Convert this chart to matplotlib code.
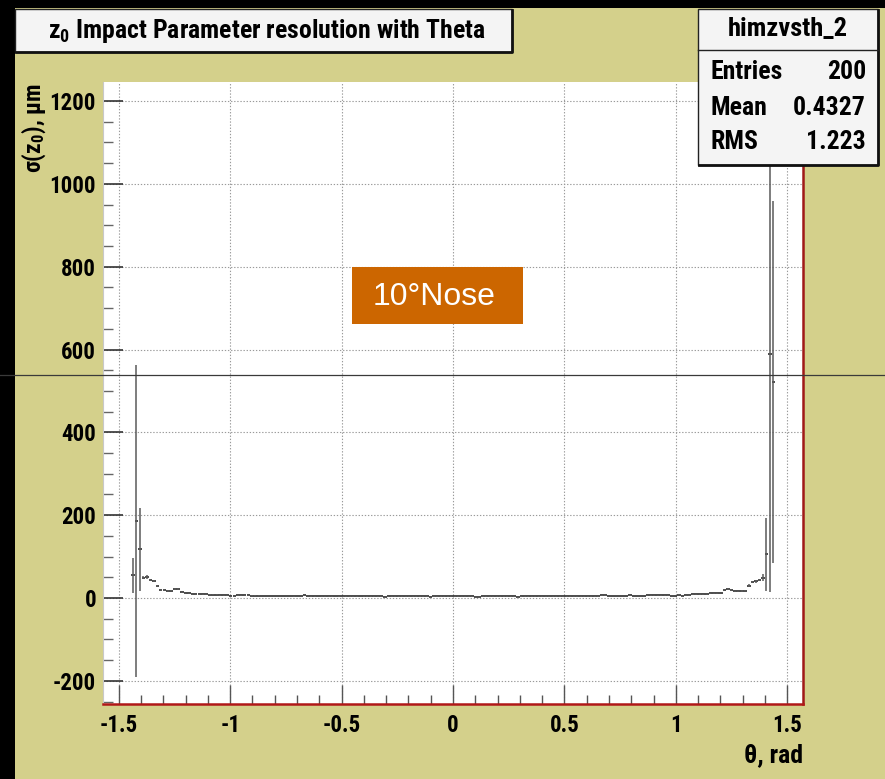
import numpy as np
import matplotlib
matplotlib.use("Agg")
import matplotlib.pyplot as plt
from matplotlib.patches import Rectangle
from matplotlib.lines import Line2D
from matplotlib.ticker import MultipleLocator, FuncFormatter
from matplotlib import font_manager as fm

# ---------------- data ----------------
n_bins = 200
theta_min, theta_max = -np.pi / 2, np.pi / 2
first_bin = 8          # bins 0..7 and 192..199 are empty

sigma_z0 = [
    55, 186, 118, 49, 51, 44, 41, 29, 19, 19,
    17, 18, 21, 21, 14, 11, 11, 9, 9, 9,
    9, 9, 8, 8, 8, 7, 7, 7, 4, 4,                  # bins 8-37
    7, 7, 7, 7, 6, 6, 6,                           # 38-44
    5, 5, 5, 5, 5, 5, 5, 5, 5, 4, 5, 5,            # 45-56
    7,                                             # 57
    5, 4, 4, 5, 4, 4, 4, 4, 5, 4, 4, 4, 4, 4, 4, 5, 4, 4, 4, 4, 4, 4,  # 58-79
    2,                                             # 80
    4, 4, 4, 4, 4, 4, 4, 4, 4, 4, 4, 4,            # 81-92
    2,                                             # 93
    4, 4, 4, 4, 4, 4, 4, 4, 4, 4, 4, 4,            # 94-105
    2, 2,                                          # 106-107
    4, 4, 4, 4, 4, 4, 4, 4, 4, 4,                  # 108-117
    2,                                             # 118
    4, 4, 4, 4, 4, 4, 4, 4, 4, 4, 4, 4, 4, 4, 4, 4, 4, 4, 4, 4, 4, 4, 4,  # 119-141
    7, 7,                                          # 142-143
    5, 5, 5, 5, 5, 5,                              # 144-149
    7,                                             # 150
    5, 5, 5, 5,                                    # 151-154
    7, 7, 7, 7, 7, 7, 7,                           # 155-161
    5, 5,                                          # 162-163
    8, 4, 7, 7,                                    # 164-167
    9, 9, 9, 9, 9,                                 # 168-172
    11, 11, 11, 12,                                # 173-176
    20, 21, 20,                                    # 177-179
    16, 16, 17, 18,                                # 180-183
    30, 38, 40, 43, 49, 106, 590, 522,             # 184-191
]

sigma_err = [
    42, 376, 100, 4, 4, 3, 3, 2, 2, 2,
    2, 2, 2, 2, 1, 1, 1, 1, 1, 1,
    1, 1, 1, 1, 1, 1, 1, 1, 1, 1,
    1, 1, 1, 1, 1, 1, 1,
    1, 1, 1, 1, 1, 1, 1, 1, 1, 1, 1, 1,
    1,
    1, 1, 1, 1, 1, 1, 1, 1, 1, 1, 1, 1, 1, 1, 1, 1, 1, 1, 1, 1, 1, 1,
    1,
    1, 1, 1, 1, 1, 1, 1, 1, 1, 1, 1, 1,
    1,
    1, 1, 1, 1, 1, 1, 1, 1, 1, 1, 1, 1,
    1, 1,
    1, 1, 1, 1, 1, 1, 1, 1, 1, 1,
    1,
    1, 1, 1, 1, 1, 1, 1, 1, 1, 1, 1, 1, 1, 1, 1, 1, 1, 1, 1, 1, 1, 1, 1,
    1, 1,
    1, 1, 1, 1, 1, 1,
    1,
    1, 1, 1, 1,
    1, 1, 1, 1, 1, 1, 1,
    1, 1,
    1, 1, 1, 1,
    1, 1, 1, 1, 1,
    1, 1, 1, 1,
    2, 2, 2,
    2, 2, 2, 2,
    3, 3, 3, 3, 8, 88, 576, 437,
]

title_text = r"$\mathrm{z_0}$ Impact Parameter resolution with Theta"
ylabel_text = r"$\sigma(\mathrm{z_0})$, μm"
xlabel_text = "θ, rad"
stats_name = "himzvsth_2"
stats_rows = [("Entries", "200"), ("Mean", "0.4327"), ("RMS", "1.223")]
note_text = "10°Nose"

# ---------------- fonts ----------------
def pick_family(cands):
    for fam in cands:
        try:
            fm.findfont(fm.FontProperties(family=fam, weight="bold"),
                        fallback_to_default=False)
            return fam
        except Exception:
            continue
    return "DejaVu Sans"

FAM = pick_family(["Roboto Condensed", "Liberation Sans Narrow", "Arial Narrow",
                   "Liberation Sans"])
CONDENSED = FAM != "Liberation Sans"

W, H = 885, 779
BG = "#d4d08b"
plt.rcParams["font.family"] = [FAM, "Liberation Sans", "DejaVu Sans"]
plt.rcParams["font.weight"] = "bold"
plt.rcParams["axes.unicode_minus"] = False
plt.rcParams["mathtext.fontset"] = "custom"
for k in ("rm", "it", "bf", "sf"):
    plt.rcParams["mathtext." + k] = FAM + ":bold"

TICK_FS = 16.5 if CONDENSED else 15
BOX_FS = 18.5 if CONDENSED else 16
TITLE_FS = 18.5 if CONDENSED else 16
YLAB_FS = 17 if CONDENSED else 15

fig = plt.figure(figsize=(W / 100, H / 100), dpi=100)
fig.patch.set_facecolor(BG)

def fx(x):
    return x / W

def fy(y):
    return 1 - y / H

# black strips (top / left) of the screenshot
fig.add_artist(Rectangle((0, fy(8)), 1, 8 / H, transform=fig.transFigure,
                         facecolor="black", edgecolor="none", zorder=0))
fig.add_artist(Rectangle((0, 0), 15 / W, 1, transform=fig.transFigure,
                         facecolor="black", edgecolor="none", zorder=0))

ax_l, ax_r, ax_t, ax_b = 103, 803, 82, 704
ax = fig.add_axes([fx(ax_l), fy(ax_b), (ax_r - ax_l) / W, (ax_b - ax_t) / H])
ax.set_facecolor("white")

edges = np.linspace(theta_min, theta_max, n_bins + 1)
centers = 0.5 * (edges[:-1] + edges[1:])
half_w = 0.5 * (edges[1] - edges[0])
vals = np.array(sigma_z0, dtype=float)
errs = np.array(sigma_err, dtype=float)
xs = centers[first_bin:first_bin + len(vals)]

ax.hlines(vals, xs - half_w, xs + half_w, colors="#1a1a1a", linewidth=1.1, zorder=3)
ax.vlines(xs, vals - errs, vals + errs, colors="#5a5a5a", linewidth=1.1, zorder=3)

ax.xaxis.set_major_locator(MultipleLocator(0.5))
ax.xaxis.set_minor_locator(MultipleLocator(0.1))
ax.yaxis.set_major_locator(MultipleLocator(200))
ax.yaxis.set_minor_locator(MultipleLocator(50))
ax.xaxis.set_major_formatter(FuncFormatter(lambda v, p: f"{v:g}"))
ax.yaxis.set_major_formatter(FuncFormatter(lambda v, p: f"{v:g}"))
ax.set_xlim(theta_min, theta_max)
ax.set_ylim(-256, 1246)

ax.grid(True, which="major", color="#9a9a9a", linestyle=(0, (1.2, 1.6)), linewidth=0.8, zorder=1)
ax.set_axisbelow(True)

ax.tick_params(axis="x", which="major", direction="in", length=13.5, width=1.0,
               color="#555555", pad=7, labelsize=TICK_FS)
ax.tick_params(axis="x", which="minor", direction="in", length=6.5, width=1.0,
               color="#555555")
ax.tick_params(axis="y", which="major", direction="in", length=14.5, width=1.2,
               color="#333333", pad=5, labelsize=TICK_FS)
ax.tick_params(axis="y", which="minor", direction="in", length=7.2, width=1.0,
               color="#666666")
for lab in ax.get_xticklabels() + ax.get_yticklabels():
    lab.set_fontweight("bold")

ax.spines["top"].set_visible(False)
ax.spines["left"].set_color("#c8c8c8")
ax.spines["left"].set_linewidth(0.8)
ax.spines["bottom"].set_color("#b01818")
ax.spines["bottom"].set_linewidth(1.8)
ax.spines["right"].set_color("#a01818")
ax.spines["right"].set_linewidth(1.8)

# axis titles
fig.text(fx(803), fy(755), xlabel_text, ha="right", va="center", fontsize=BOX_FS,
         fontweight="bold")
fig.text(fx(34), fy(83), ylabel_text, ha="center", va="top",
         rotation=90, fontsize=YLAB_FS, fontweight="bold")

# title box
fig.add_artist(Rectangle((fx(15), fy(52)), (512 - 15) / W, (52 - 9) / H,
                         transform=fig.transFigure, facecolor="#f4f4f4",
                         edgecolor="#222222", linewidth=1.0, zorder=4))
fig.add_artist(Line2D([fx(16), fx(512), fx(512)], [fy(52), fy(52), fy(10)],
                      transform=fig.transFigure, color="#111111", linewidth=2.0, zorder=5))
fig.text(fx(267), fy(31), title_text, ha="center", va="center", fontsize=TITLE_FS,
         fontweight="bold", zorder=6)

# stats box
sx0, sx1, sy0, sy1 = 698, 878, 9, 165
fig.add_artist(Rectangle((fx(sx0), fy(sy1)), (sx1 - sx0) / W, (sy1 - sy0) / H,
                         transform=fig.transFigure, facecolor="#f4f4f4",
                         edgecolor="#222222", linewidth=1.0, zorder=4))
fig.add_artist(Line2D([fx(sx0 + 1), fx(sx1), fx(sx1)], [fy(sy1), fy(sy1), fy(sy0 + 1)],
                      transform=fig.transFigure, color="#111111", linewidth=2.0, zorder=5))
fig.add_artist(Line2D([fx(sx0), fx(sx1)], [fy(50), fy(50)],
                      transform=fig.transFigure, color="#222222", linewidth=1.0, zorder=5))
fig.text(fx(788), fy(29), stats_name, ha="center", va="center", fontsize=BOX_FS + 0.5,
         fontweight="bold", zorder=6)
for (name, val), yy in zip(stats_rows, [72, 108, 142]):
    fig.text(fx(710), fy(yy), name, ha="left", va="center", fontsize=BOX_FS,
             fontweight="bold", zorder=6)
    fig.text(fx(866), fy(yy), val, ha="right", va="center", fontsize=BOX_FS,
             fontweight="bold", zorder=6)

# orange annotation box
fig.add_artist(Rectangle((fx(352), fy(324)), (523 - 352) / W, (324 - 267) / H,
                         transform=fig.transFigure, facecolor="#cc6600",
                         edgecolor="none", zorder=4))
fig.text(fx(434), fy(297), note_text, ha="center", va="center", fontsize=23,
         color="white", fontweight="normal",
         family=["Liberation Sans", "DejaVu Sans"], zorder=6)

# stray horizontal line crossing the whole screenshot
fig.add_artist(Line2D([0, 1], [fy(375), fy(375)], transform=fig.transFigure,
                      color="#3a3a3a", linewidth=0.9, zorder=10))

fig.savefig("out.png", dpi=100, facecolor=fig.get_facecolor())
